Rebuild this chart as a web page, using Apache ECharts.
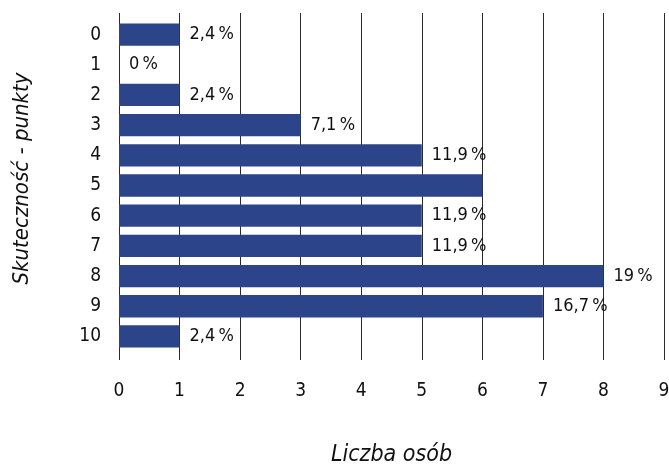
<!DOCTYPE html>
<html><head><meta charset="utf-8">
<script src="https://cdn.jsdelivr.net/npm/echarts@6/dist/echarts.min.js"></script>
<style>html,body{margin:0;padding:0;background:#fff}#c{width:669px;height:465px}</style>
</head><body><div id="c"></div>
<script>
const categories = ['0','1','2','3','4','5','6','7','8','9','10'];
const counts = [1, 0, 1, 3, 5, 6, 5, 5, 8, 7, 1];
const percentLabels = ['2,4\u2009%','0\u2009%','2,4\u2009%','7,1\u2009%','11,9\u2009%','','11,9\u2009%','11,9\u2009%','19\u2009%','16,7\u2009%','2,4\u2009%'];
const xTicks = [0,1,2,3,4,5,6,7,8,9];

const FONT = "'DejaVu Sans Condensed','Liberation Sans Narrow','Noto Sans',sans-serif";
const chart = echarts.init(document.getElementById('c'), null, {renderer:'canvas'});
chart.setOption({
  animation:false,
  backgroundColor:'#fff',
  grid:[
    {left:119, right:5, top:19.5, height:332, outerBoundsMode:'none', containLabel:false},
    {left:119, right:5, top:13, bottom:105, outerBoundsMode:'none', containLabel:false}
  ],
  xAxis:[
    {gridIndex:0, type:'value', min:0, max:9, interval:1, show:false},
    {gridIndex:1, type:'value', min:xTicks[0], max:xTicks[xTicks.length-1], interval:1,
     axisLine:{show:false}, axisTick:{show:false},
     splitLine:{show:true, lineStyle:{color:'#2a2a2a', width:1}},
     axisLabel:{fontFamily:FONT, fontSize:19, color:'#111', margin:22},
     name:'Liczba osób', nameLocation:'middle', nameGap:84,
     nameTextStyle:{fontFamily:FONT, fontSize:23, fontStyle:'italic', color:'#111'}}
  ],
  yAxis:[
    {gridIndex:0, type:'category', data:categories, inverse:true,
     axisLine:{show:false}, axisTick:{show:false}, splitLine:{show:false},
     axisLabel:{fontFamily:FONT, fontSize:19, color:'#111', margin:18, align:'right'},
     name:'Skuteczność - punkty', nameLocation:'middle', nameGap:86, nameRotate:90,
     nameTextStyle:{fontFamily:FONT, fontSize:22, fontStyle:'italic', color:'#111', padding:[0,0,0,14]}},
    {gridIndex:1, type:'value', show:false}
  ],
  series:[{
    type:'bar', xAxisIndex:0, yAxisIndex:0,
    data:counts, barCategoryGap:'26%',
    itemStyle:{color:'#2c4489'},
    label:{show:true, position:'right', distance:10, fontFamily:FONT, fontSize:18, color:'#111',
      formatter:p=>percentLabels[p.dataIndex]}
  }]
});
</script></body></html>
